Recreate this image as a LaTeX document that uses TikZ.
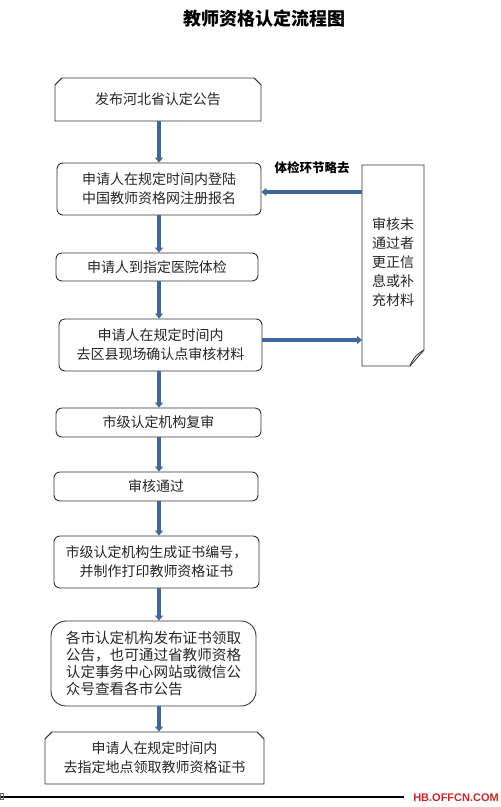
\documentclass[tikz,border=0pt]{standalone}
\usepackage{fontspec}
\newfontfamily\cjk{Noto Sans CJK SC}
\setsansfont{Liberation Sans}
\usetikzlibrary{shapes.misc,arrows.meta}
\definecolor{arrblue}{RGB}{79,129,189}
\definecolor{wmred}{RGB}{200,40,40}
\tikzset{
  x=1pt,y=-1pt,
  txt/.style={font=\cjk\fontsize{14pt}{19pt}\selectfont, align=center, text=black!85},
  rbox/.style={txt, draw=black!80, line width=0.9pt, rounded corners=6pt, inner sep=0pt},
  cbox/.style={txt, draw=black!80, line width=0.9pt, chamfered rectangle, chamfered rectangle xsep=4pt,
     chamfered rectangle corners={north west,north east}, inner sep=0pt},
  arr/.style={draw=arrblue!80!black, line width=3.2pt, -{Triangle[length=5pt,width=8pt]}},
}
\begin{document}
\begin{tikzpicture}
\useasboundingbox (0,0) rectangle (501,807);
\node[font=\cjk\bfseries\fontsize{18pt}{20pt}\selectfont] (title) at (264,19) {教师资格认定流程图};

\node[cbox, minimum width=206pt, minimum height=43pt] (b1) at (158,99.5) {发布河北省认定公告};
\node[rbox, minimum width=204pt, minimum height=52pt] (b2) at (159,189) {申请人在规定时间内登陆\\中国教师资格网注册报名};
\node[rbox, minimum width=202pt, minimum height=28pt] (b3) at (157,267) {申请人到指定医院体检};
\node[rbox, minimum width=203pt, minimum height=52pt] (b4) at (160.5,345) {申请人在规定时间内\\去区县现场确认点审核材料};
\node[rbox, minimum width=205pt, minimum height=29pt] (b5) at (158.5,422.5) {市级认定机构复审};
\node[rbox, minimum width=204pt, minimum height=29pt] (b6) at (156,486.5) {审核通过};
\node[rbox, minimum width=205pt, minimum height=52pt] (b7) at (156.5,562) {市级认定机构生成证书编号，\\并制作打印教师资格证书};
\node[rbox, rounded corners=15pt, minimum width=205pt, minimum height=85pt, align=left,
  font=\cjk\fontsize{14.6pt}{17pt}\selectfont] (b8) at (153.5,663.5)
  {各市认定机构发布证书领取\\公告，也可通过省教师资格\\认定事务中心网站或微信公\\众号查看各市公告};
\node[cbox, minimum width=219pt, minimum height=52pt] (b9) at (154.5,758) {申请人在规定时间内\\去指定地点领取教师资格证书};

% document-shaped side box
\draw[black!80, line width=0.9pt] (362,165) -- (424,165) -- (424,350) -- (410,366) -- (362,366) -- cycle;
\draw[black!80, line width=0.8pt] (410,366) .. controls (413,358) and (417,354) .. (424,350);
\node[txt, align=center] (sidetext) at (393,262) {审核未\\通过者\\更正信\\息或补\\充材料};
\node[font=\cjk\bfseries\fontsize{12.5pt}{14pt}\selectfont] (skip) at (312,168) {体检环节略去};

\coordinate (ax) at (159,0);
\draw[arr] (b1.south -| ax) -- (b2.north -| ax);
\draw[arr] (b2.south -| ax) -- (b3.north -| ax);
\draw[arr] (b3.south -| ax) -- (b4.north -| ax);
\draw[arr] (b4.south -| ax) -- (b5.north -| ax);
\draw[arr] (b5.south -| ax) -- (b6.north -| ax);
\draw[arr] (b6.south -| ax) -- (b7.north -| ax);
\draw[arr] (b7.south -| ax) -- (b8.north -| ax);
\draw[arr] (b8.south -| ax) -- (b9.north -| ax);
\coordinate (sr) at (362,192);
\coordinate (sl) at (362,340);
\draw[arr] (sr) -- (b2.east |- sr);
\draw[arr] (b4.east |- sl) -- (sl);

% footer
\coordinate (f1) at (0,797);
\coordinate (f2) at (404,797);
\draw[black, line width=1.6pt] (f1) -- (f2);
\draw[black!60, line width=0.5pt] (0.5,793) rectangle (3.5,799);
\node[font=\sffamily\bfseries\fontsize{11pt}{12pt}\selectfont, text=wmred, anchor=east, inner sep=0pt] (wm) at (499,798) {HB.OFFCN.COM};
\end{tikzpicture}
\end{document}
